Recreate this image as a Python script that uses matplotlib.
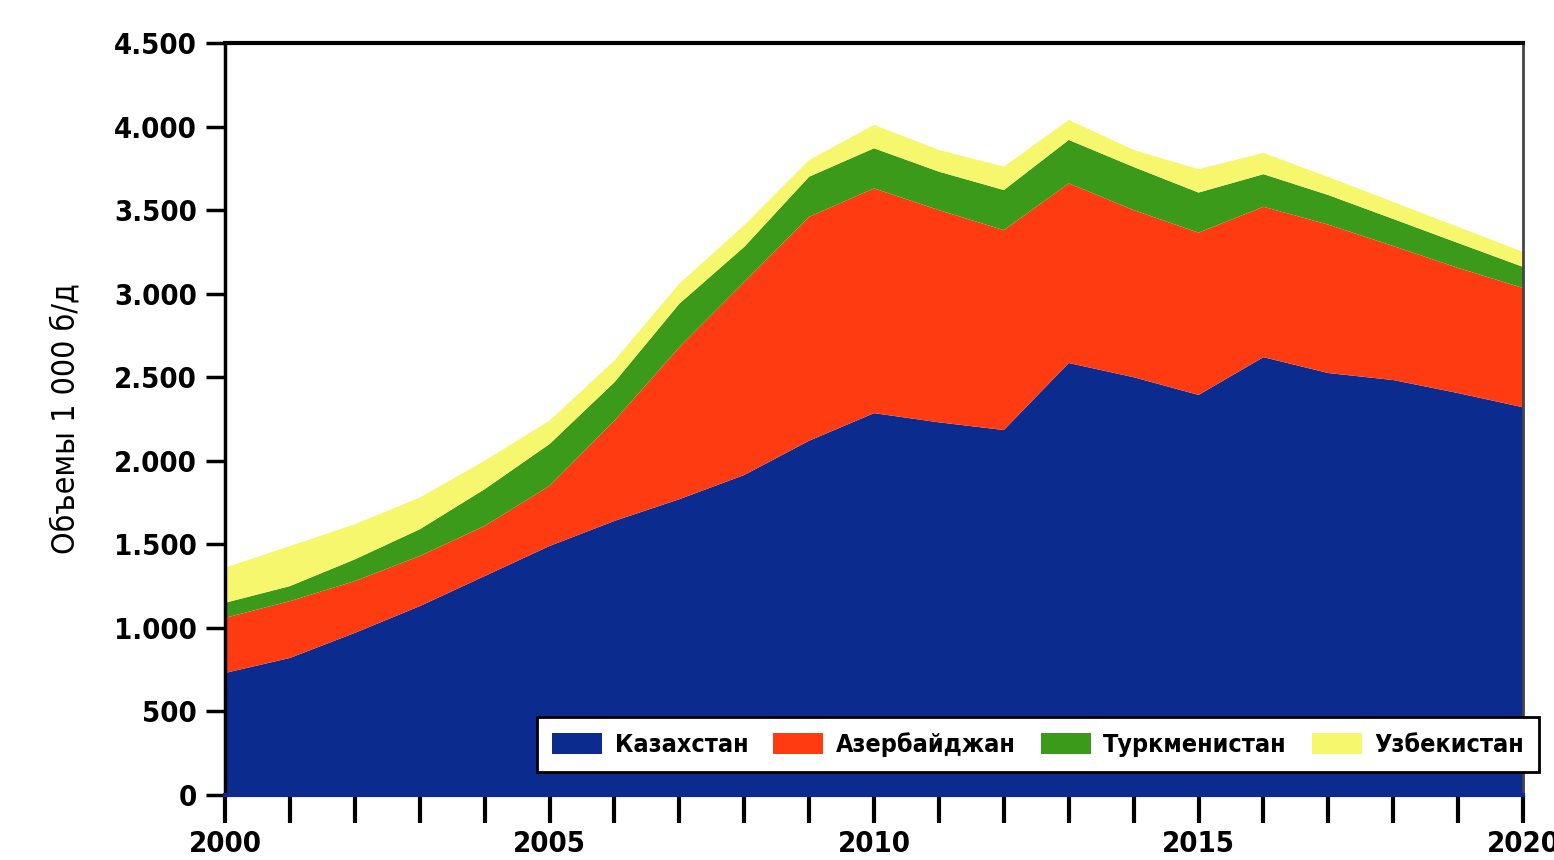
import matplotlib.pyplot as plt
import matplotlib.ticker as mticker
import numpy as np

years = list(range(2000, 2021))

# values: Kazakhstan, then the cumulative tops of each stack
kazakhstan = [730, 820, 970, 1130, 1310, 1490, 1640, 1770, 1915, 2120, 2285,
              2230, 2184, 2585, 2500, 2394, 2620, 2525, 2483, 2405, 2320]
top_azer = [1060, 1160, 1280, 1430, 1610, 1850, 2240, 2680, 3070, 3460, 3630,
            3500, 3380, 3660, 3500, 3365, 3520, 3413, 3285, 3154, 3034]
top_turk = [1150, 1250, 1410, 1590, 1830, 2100, 2470, 2940, 3280, 3700, 3870,
            3730, 3620, 3920, 3758, 3605, 3715, 3590, 3447, 3303, 3160]
top_uzb = [1360, 1490, 1620, 1780, 2000, 2240, 2600, 3060, 3410, 3800, 4010,
           3860, 3760, 4040, 3860, 3745, 3842, 3698, 3549, 3399, 3250]

azerbaijan = list(np.array(top_azer) - np.array(kazakhstan))
turkmenistan = list(np.array(top_turk) - np.array(top_azer))
uzbekistan = list(np.array(top_uzb) - np.array(top_turk))

labels = ["Казахстан", "Азербайджан", "Туркменистан", "Узбекистан"]
colors = ["#0b2b8e", "#ff3b12", "#3b9a1a", "#f7f76e"]

plt.rcParams['font.family'] = ['DejaVu Sans']
plt.rcParams['font.stretch'] = 'condensed'

fig = plt.figure(figsize=(15.54, 8.6), dpi=100)
ax = fig.add_axes([0.1448, 0.0756, 0.8353, 0.8744])

ax.stackplot(years, kazakhstan, azerbaijan, turkmenistan, uzbekistan,
             colors=colors, labels=labels, linewidth=0)

ax.set_xlim(2000, 2020)
ax.set_ylim(0, 4500)

ax.set_yticks(range(0, 4501, 500))
ax.yaxis.set_major_formatter(mticker.FuncFormatter(
    lambda v, p: f"{int(v):,}".replace(",", ".")))
ax.set_xticks(years)
ax.set_xticklabels([str(y) if y % 5 == 0 else "" for y in years])

ax.tick_params(axis='y', direction='out', length=14, width=2.5,
               labelsize=21, pad=6)
ax.tick_params(axis='x', direction='out', length=20, width=3,
               labelsize=21, pad=5)
for lab in ax.get_xticklabels() + ax.get_yticklabels():
    lab.set_fontweight('bold')

ax.spines['top'].set_linewidth(3)
ax.spines['left'].set_linewidth(2.5)
ax.spines['right'].set_linewidth(2)
ax.spines['right'].set_color('#444444')
ax.spines['bottom'].set_linewidth(3)
ax.spines['bottom'].set_color('#0b2b8e')

ax.set_ylabel("Объемы 1 000 б/д", fontsize=23, labelpad=24)

leg = ax.legend(loc='lower right', bbox_to_anchor=(1.022, 0.014), ncol=4,
                prop={'size': 18, 'weight': 'bold', 'stretch': 'condensed'},
                frameon=True, fancybox=False, edgecolor='black',
                handlelength=2.0, handleheight=0.9, columnspacing=1.0,
                handletextpad=0.5, borderpad=0.6)
leg.get_frame().set_linewidth(2)
leg.get_frame().set_alpha(1)

fig.savefig("out.png", dpi=100)
